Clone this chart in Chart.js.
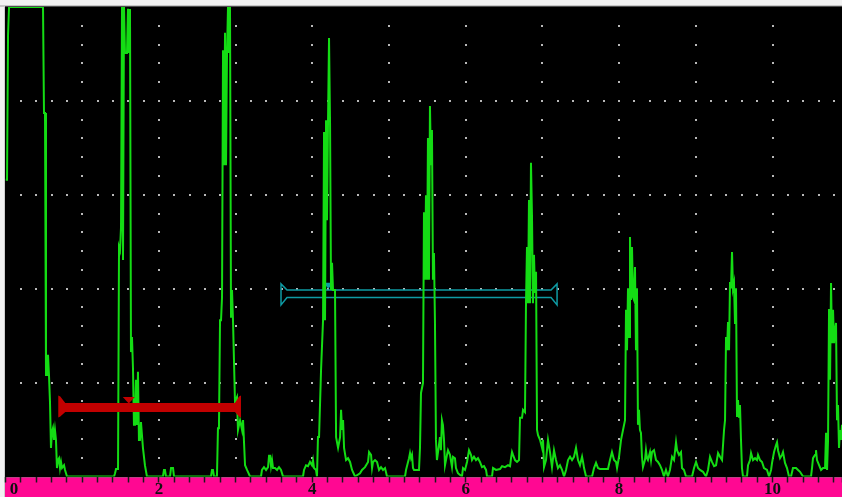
<!DOCTYPE html>
<html>
<head>
<meta charset="utf-8">
<script src="https://cdn.jsdelivr.net/npm/chart.js@4.4.1/dist/chart.umd.min.js"></script>
<style>
  html, body { margin: 0; padding: 0; background: #f2f2f2; }
  #wrap { width: 842px; height: 497px; }
</style>
</head>
<body>
<div id="wrap"><canvas id="ascan" width="842" height="497"></canvas></div>
<script>
// A-scan trace: time base (screen units) / amplitude (% full screen height)
// one row per echo group: initial pulse, then the back-wall echoes
const traceX = [
  0, 0.020, 0.033, 0.046, 0.489, 0.502, 0.515, 0.528, 0.541, 0.554, 0.567, 0.580, 0.593, 0.606, 0.619, 0.632, 0.645, 0.658, 0.671, 0.684, 0.698, 0.711, 0.724, 0.737, 0.763, 0.776, 0.802,
  1.415, 1.428, 1.441, 1.467, 1.480, 1.493, 1.506, 1.519, 1.532, 1.545, 1.558, 1.584, 1.597, 1.610, 1.623, 1.636, 1.649, 1.662, 1.675, 1.688, 1.701, 1.714, 1.727, 1.740, 1.753, 1.766, 1.792, 1.818, 1.844,
  2.053, 2.066, 2.079, 2.092, 2.145, 2.158, 2.184, 2.197, 2.679, 2.692, 2.705, 2.718, 2.757, 2.770, 2.783, 2.797, 2.810, 2.823, 2.836, 2.849, 2.862, 2.875, 2.888, 2.901, 2.914, 2.927, 2.940, 2.953, 2.966, 2.992, 3.018, 3.031, 3.058, 3.084, 3.097, 3.123, 3.149, 3.188,
  3.331, 3.344, 3.370, 3.397, 3.423, 3.436, 3.449, 3.462, 3.475, 3.488, 3.514, 3.540, 3.566, 3.592, 3.618, 3.879, 3.892, 3.918, 3.944, 3.970, 3.996, 4.009, 4.022, 4.048, 4.061, 4.074, 4.088, 4.114, 4.140, 4.153, 4.166, 4.179, 4.192, 4.205, 4.218, 4.231, 4.244, 4.257, 4.270, 4.296, 4.310, 4.336, 4.362, 4.375, 4.388, 4.401, 4.414, 4.440, 4.466, 4.492, 4.518, 4.557,
  4.622, 4.648, 4.687, 4.727, 4.740, 4.766, 4.779, 4.792, 4.818, 4.844, 4.870, 4.896, 4.922, 4.948, 4.974, 5.209, 5.222, 5.248, 5.261, 5.274, 5.287, 5.300, 5.313, 5.326, 5.391, 5.404, 5.417, 5.443, 5.456, 5.469, 5.482, 5.495, 5.508, 5.521, 5.534, 5.547, 5.560, 5.573, 5.586, 5.599, 5.612, 5.625, 5.651, 5.664, 5.677, 5.690, 5.703, 5.717, 5.730, 5.756, 5.769, 5.795, 5.821, 5.834, 5.860, 5.873, 5.899, 5.951,
  5.965, 5.991, 6.017, 6.043, 6.069, 6.082, 6.108, 6.134, 6.160, 6.186, 6.212, 6.238, 6.265, 6.278, 6.343, 6.356, 6.395, 6.447, 6.474, 6.513, 6.552, 6.578, 6.591, 6.604, 6.617, 6.643, 6.669, 6.695, 6.708, 6.734, 6.747, 6.773, 6.786, 6.799, 6.812, 6.825, 6.838, 6.851, 6.864, 6.877, 6.890, 6.904, 6.917, 6.930, 6.943, 6.969, 6.995, 7.008, 7.021, 7.047, 7.073, 7.099, 7.125, 7.151, 7.177, 7.203, 7.229, 7.256, 7.282,
  7.308, 7.334, 7.360, 7.386, 7.412, 7.438, 7.464, 7.490, 7.517, 7.530, 7.543, 7.569, 7.647, 7.673, 7.699, 7.725, 7.751, 7.855, 7.881, 7.907, 7.934, 7.960, 7.973, 7.999, 8.025, 8.051, 8.077, 8.090, 8.103, 8.116, 8.129, 8.142, 8.155, 8.168, 8.181, 8.194, 8.207, 8.220, 8.233, 8.246, 8.259, 8.272, 8.285, 8.298, 8.311, 8.337, 8.350, 8.363, 8.376, 8.403, 8.416, 8.429, 8.455, 8.481, 8.507, 8.533, 8.559, 8.585,
  8.611, 8.637, 8.663, 8.690, 8.716, 8.742, 8.755, 8.781, 8.807, 8.820, 8.846, 8.872, 8.951, 8.977, 9.003, 9.029, 9.055, 9.094, 9.133, 9.159, 9.185, 9.211, 9.238, 9.264, 9.290, 9.316, 9.342, 9.368, 9.381, 9.394, 9.407, 9.420, 9.433, 9.446, 9.459, 9.472, 9.485, 9.498, 9.511, 9.524, 9.537, 9.550, 9.563, 9.576, 9.589, 9.602, 9.615,
  9.667, 9.681, 9.707, 9.720, 9.746, 9.772, 9.798, 9.811, 9.837, 9.863, 9.889, 9.928, 9.955, 9.981, 9.994, 10.020, 10.046, 10.059, 10.072, 10.098, 10.124, 10.137, 10.163, 10.189, 10.215, 10.241, 10.267, 10.307, 10.333, 10.359, 10.398, 10.502, 10.515, 10.528, 10.554, 10.567, 10.580, 10.607, 10.633, 10.659, 10.685, 10.698, 10.711, 10.724, 10.737, 10.750, 10.763, 10.776, 10.789, 10.802, 10.815, 10.828, 10.841, 10.854, 10.867, 10.880, 10.893, 10.906
];
const traceY = [
  63.2, 63.2, 94.0, 100, 100, 77.4, 77.4, 21.6, 21.6, 25.9, 21.6, 15.9, 6.1, 9.5, 10.3, 7.8, 9.9, 7.8, 1.8, 3.5, 3.9, 1.8, 3.1, 1.8, 2.4, 1.4, 0,
  0, 0.7, 1.6, 1.6, 48.9, 48.2, 53.1, 100, 46.1, 100, 90.2, 90.2, 99.6, 90.2, 99.6, 26.5, 29.7, 23.1, 11.0, 11.0, 20.6, 11.0, 22.3, 7.8, 7.8, 11.6, 6.1, 2.4, 0,
  0, 1.4, 1.4, 0, 0, 1.8, 1.8, 0, 0, 1.4, 1.4, 0, 0, 10.3, 10.3, 33.3, 33.3, 38.2, 90.8, 66.3, 94.5, 66.3, 90.2, 100, 90.2, 100, 34.0, 39.7, 33.3, 15.9, 16.9, 9.9, 12.0, 9.9, 12.0, 2.4, 1.4, 0,
  0, 1.4, 2.0, 1.4, 2.0, 4.4, 4.4, 2.2, 3.5, 1.8, 1.8, 1.4, 2.0, 1.4, 0, 0, 1.4, 2.4, 2.2, 3.1, 2.4, 3.5, 1.8, 1.4, 0, 8.4, 8.4, 22.7, 33.3, 73.4, 33.3, 75.9, 54.6, 75.9, 93.4, 75.9, 39.7, 45.5, 39.7, 39.7, 8.4, 6.1, 8.4, 14.2, 9.9, 12.0, 6.1, 3.5, 3.9, 3.1, 1.4, 0,
  0.7, 1.4, 2.0, 3.1, 5.2, 4.6, 1.8, 3.1, 3.5, 3.1, 1.4, 2.0, 1.4, 1.8, 0, 0, 1.4, 3.1, 3.9, 5.0, 3.9, 4.6, 1.8, 1.4, 1.4, 6.1, 17.8, 19.9, 56.3, 41.9, 59.9, 41.9, 72.1, 41.9, 78.9, 66.3, 73.8, 41.9, 47.6, 33.3, 7.8, 3.5, 6.7, 8.4, 5.6, 12.0, 11.0, 7.8, 2.4, 4.6, 5.6, 4.6, 2.0, 4.2, 3.9, 1.8, 0.7, 0,
  1.8, 1.4, 3.1, 5.6, 4.6, 3.5, 4.2, 3.5, 3.9, 3.1, 2.0, 2.2, 1.4, 0, 0, 1.8, 1.4, 1.6, 2.2, 2.0, 2.4, 2.2, 3.9, 5.2, 4.6, 3.5, 3.1, 3.5, 12.5, 12.5, 14.2, 13.7, 36.9, 48.9, 36.9, 58.9, 36.9, 66.8, 55.7, 36.9, 47.2, 39.1, 43.6, 9.9, 8.8, 7.8, 6.1, 7.8, 2.0, 3.5, 7.8, 5.2, 2.0, 5.6, 3.5, 1.8, 2.4, 1.4, 0,
  1.4, 3.5, 4.2, 3.5, 4.2, 6.1, 3.5, 2.4, 4.2, 3.1, 1.8, 0, 0, 1.8, 2.9, 1.8, 1.6, 1.6, 3.5, 5.2, 3.5, 3.1, 1.8, 4.2, 7.8, 9.9, 12.0, 35.5, 26.9, 40.1, 29.7, 51.0, 37.6, 48.9, 38.2, 37.6, 44.6, 26.9, 40.1, 11.0, 14.2, 9.9, 9.3, 4.2, 2.0, 3.5, 5.6, 3.9, 3.5, 5.2, 3.5, 5.2, 5.6, 3.5, 3.1, 2.4, 1.4, 0,
  1.4, 0, 1.4, 4.2, 3.5, 7.3, 5.6, 4.6, 5.2, 1.8, 1.4, 0, 0, 1.8, 3.1, 1.8, 1.4, 1.0, 0, 1.4, 4.2, 3.1, 2.2, 2.4, 5.0, 4.2, 3.5, 9.9, 12.0, 29.7, 26.9, 32.9, 26.9, 41.4, 40.1, 47.8, 40.1, 41.2, 32.7, 40.1, 12.7, 16.3, 12.5, 15.2, 7.8, 1.8, 0,
  0, 2.4, 3.5, 5.0, 3.5, 3.9, 3.5, 4.6, 3.5, 3.1, 1.8, 1.4, 0, 1.4, 2.9, 5.2, 6.7, 7.3, 5.6, 3.9, 4.6, 5.2, 2.9, 1.8, 0, 0, 1.8, 1.8, 1.4, 1.0, 0, 0, 1.8, 3.9, 4.6, 5.6, 3.5, 2.4, 1.4, 1.8, 1.8, 9.3, 1.4, 7.8, 35.7, 20.6, 41.2, 28.4, 35.5, 28.4, 31.2, 32.7, 12.0, 15.2, 6.1, 9.9, 7.8, 11.0
];

// Gates: [A, B]
const gateStart = [0.688, 3.592];
const gateEnd = [3.057, 7.191];
const gateLevel = [14.7, 38.9];
const gatePeak = [1.607, 4.209];

// Bottom scale
const axisValues = [0, 2, 4, 6, 8, 10];
const axisLabels = ['0', '2', '4', '6', '8', '10'];
const rangeMax = 10.906;

const TRACE_GREEN = '#14dc14';
const GATE_A_RED = '#c20000';
const GATE_B_TEAL = '#0e9aa3';
const RULER_PINK = '#ff0892';
const DOT_GREY = '#b8b8b8';

// Screen background, ruler strip and dot graticule
const screenPlugin = {
  id: 'screen',
  beforeDraw(chart) {
    const { ctx, chartArea: a, width, height } = chart;
    ctx.save();
    ctx.fillStyle = '#f2f2f2';
    ctx.fillRect(0, 0, width, height);
    ctx.fillStyle = '#000';
    ctx.fillRect(a.left - 0.5, a.top - 1, width, a.bottom - a.top + 2);
    ctx.fillStyle = RULER_PINK;
    ctx.fillRect(a.left - 0.5, a.bottom + 1, width, height - a.bottom);
    ctx.fillStyle = '#9c9c9c';
    ctx.fillRect(0, a.top - 1.5, width, 1);
    ctx.fillStyle = '#cfcfcf';
    ctx.fillRect(a.left - 1.5, a.top - 1, 1, height);
    ctx.restore();
  },
  beforeDatasetsDraw(chart) {
    const { ctx, scales: { x, y } } = chart;
    ctx.save();
    ctx.fillStyle = DOT_GREY;
    const dot = (u, v) => {
      const px = Math.round(x.getPixelForValue(u));
      const py = Math.round(y.getPixelForValue(v));
      ctx.fillRect(px - 1, py - 1, 2, 2);
    };
    for (let c = 1; c <= 10; c++) {
      for (let k = 1; k < 25; k++) dot(c, k * 4);
    }
    for (let r = 20; r <= 80; r += 20) {
      for (let j = 1; j <= 54; j++) dot(j / 5, r);
    }
    ctx.restore();
    drawGate(chart, 1);
  },
  afterDatasetsDraw(chart) {
    drawGate(chart, 0);
  }
};

function drawGate(chart, i) {
  const { ctx, scales: { x, y } } = chart;
  const xs = x.getPixelForValue(gateStart[i]);
  const xe = x.getPixelForValue(gateEnd[i]);
  const yc = y.getPixelForValue(gateLevel[i]);
  const xm = x.getPixelForValue(gatePeak[i]);
  ctx.save();
  if (i === 0) {
    ctx.fillStyle = GATE_A_RED;
    ctx.beginPath();
    ctx.moveTo(xs, yc - 12);
    ctx.lineTo(xs + 2, yc - 11);
    ctx.lineTo(xs + 7, yc - 4.5);
    ctx.lineTo(xe - 5, yc - 4.5);
    ctx.lineTo(xe - 1, yc - 11);
    ctx.lineTo(xe + 1, yc - 12);
    ctx.lineTo(xe + 1, yc + 10);
    ctx.lineTo(xe - 1, yc + 9);
    ctx.lineTo(xe - 5, yc + 4.5);
    ctx.lineTo(xs + 7, yc + 4.5);
    ctx.lineTo(xs + 2, yc + 9);
    ctx.lineTo(xs, yc + 10);
    ctx.closePath();
    ctx.fill();
    ctx.beginPath();
    ctx.moveTo(xm - 6, yc - 10.5);
    ctx.lineTo(xm + 6, yc - 10.5);
    ctx.lineTo(xm, yc - 4);
    ctx.closePath();
    ctx.fill();
  } else {
    ctx.strokeStyle = GATE_B_TEAL;
    ctx.lineWidth = 1.5;
    ctx.beginPath();
    ctx.moveTo(xs + 6, yc - 3.75);
    ctx.lineTo(xe - 6, yc - 3.75);
    ctx.lineTo(xe, yc - 10);
    ctx.lineTo(xe, yc + 11);
    ctx.lineTo(xe - 6, yc + 3.75);
    ctx.lineTo(xs + 6, yc + 3.75);
    ctx.lineTo(xs, yc + 11);
    ctx.lineTo(xs, yc - 10);
    ctx.closePath();
    ctx.stroke();
    ctx.fillStyle = GATE_B_TEAL;
    ctx.beginPath();
    ctx.moveTo(xm - 5, yc - 11);
    ctx.lineTo(xm + 5, yc - 11);
    ctx.lineTo(xm, yc - 5);
    ctx.closePath();
    ctx.fill();
  }
  ctx.restore();
}

// the first label sits inset from the ruler's left edge
const labelFor = (v) => {
  const k = axisValues.findIndex(a => Math.abs(a - v) < 1e-6);
  if (k < 0) return '';
  return k === 0 ? ' ' + axisLabels[k] : axisLabels[k];
};

new Chart(document.getElementById('ascan'), {
  type: 'line',
  data: {
    datasets: [{
      data: traceX.map((t, i) => ({ x: t, y: traceY[i] })),
      borderColor: TRACE_GREEN,
      borderWidth: 2,
      pointRadius: 0,
      tension: 0,
      fill: false
    }]
  },
  options: {
    responsive: false,
    animation: false,
    events: [],
    layout: { padding: { left: 5.5, top: 7, right: 0, bottom: 0 } },
    plugins: { legend: { display: false }, tooltip: { enabled: false } },
    scales: {
      x: {
        type: 'linear',
        min: 0,
        max: rangeMax,
        afterBuildTicks: (s) => {
          const t = [];
          for (let j = 0; j <= 54; j++) t.push({ value: j / 5 });
          t.push({ value: rangeMax });
          s.ticks = t;
        },
        afterFit: (s) => { s.height = 20.5; s.paddingLeft = 0; s.paddingRight = 0; },
        grid: { drawOnChartArea: false, drawTicks: true, tickLength: 6, tickColor: '#1a1a1a', tickWidth: 1.5 },
        border: { display: false },
        ticks: {
          autoSkip: false,
          maxRotation: 0,
          minRotation: 0,
          align: 'inner',
          padding: -1,
          color: '#111',
          font: { family: 'Liberation Serif', size: 17, weight: 'bold', lineHeight: 1 },
          callback: (v) => labelFor(v)
        }
      },
      y: { display: false, min: 0, max: 100 }
    }
  },
  plugins: [screenPlugin]
});
</script>
</body>
</html>
